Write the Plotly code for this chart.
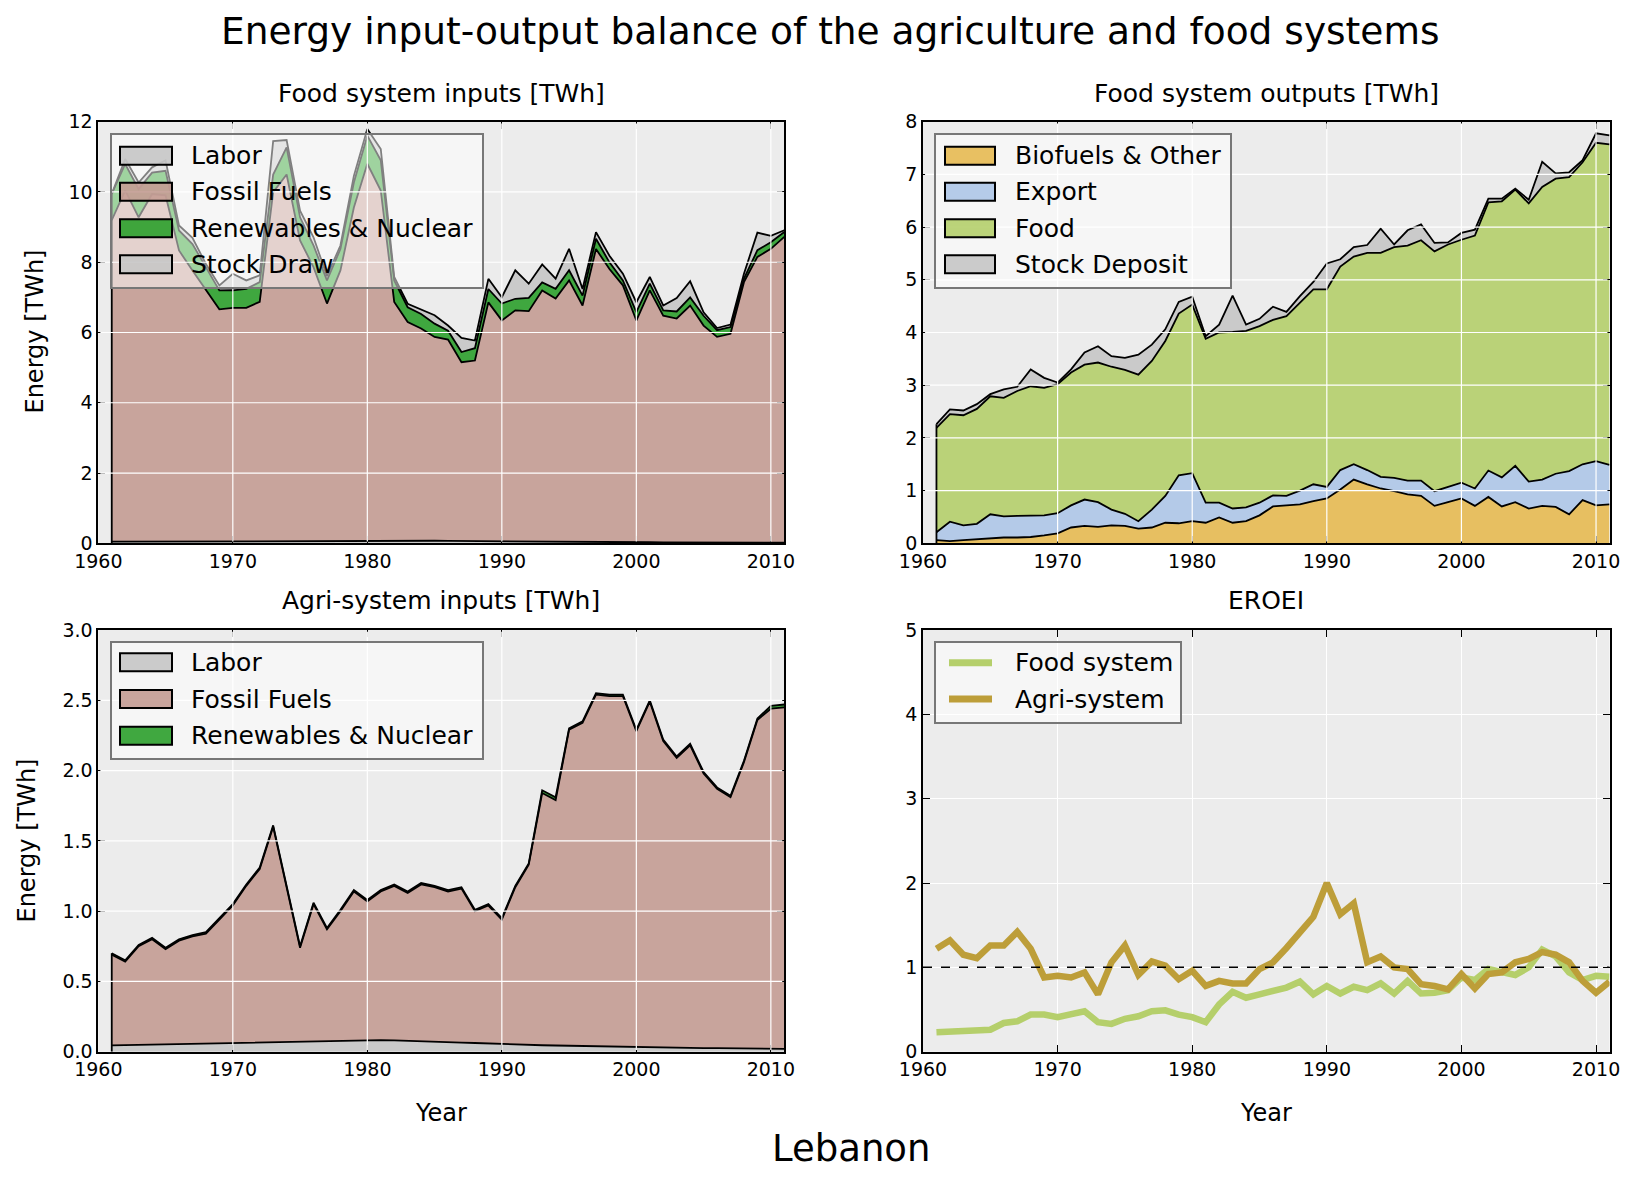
import plotly.graph_objects as go
from plotly.subplots import make_subplots

years = list(range(1961, 2012))

# food system inputs [TWh] (stacked, bottom to top)
labor = [0.045, 0.047, 0.049, 0.051, 0.053, 0.055, 0.057, 0.059, 0.060, 0.062,
         0.063, 0.064, 0.066, 0.068, 0.069, 0.071, 0.074, 0.076, 0.079, 0.083,
         0.082, 0.080, 0.078, 0.075, 0.072, 0.069, 0.065, 0.062, 0.058, 0.054,
         0.050, 0.048, 0.046, 0.044, 0.042, 0.040, 0.038, 0.036, 0.033, 0.031,
         0.030, 0.029, 0.028, 0.027, 0.026, 0.025, 0.024, 0.023, 0.022, 0.021, 0.020]
fossil = [9.15, 10.00, 9.23, 9.89, 9.85, 8.28, 7.71, 7.14, 6.60, 6.64,
          6.64, 6.81, 9.93, 10.43, 8.55, 7.79, 6.75, 7.69, 9.48, 10.72,
          9.96, 6.79, 6.22, 6.04, 5.80, 5.73, 5.09, 5.14, 6.80, 6.29,
          6.58, 6.56, 7.15, 6.92, 7.44, 6.73, 8.34, 7.77, 7.31, 6.31,
          7.17, 6.45, 6.37, 6.74, 6.17, 5.85, 5.94, 7.41, 8.13, 8.36, 8.70]
renewables = [0.75, 0.75, 0.80, 0.61, 0.70, 0.57, 0.75, 0.66, 0.54, 0.50,
              0.54, 0.56, 0.50, 0.77, 0.66, 0.62, 0.66, 0.61, 0.71, 0.80,
              0.86, 0.61, 0.42, 0.41, 0.38, 0.25, 0.29, 0.35, 0.38, 0.48,
              0.33, 0.38, 0.23, 0.28, 0.29, 0.28, 0.29, 0.19, 0.14, 0.24,
              0.19, 0.15, 0.20, 0.23, 0.28, 0.19, 0.19, 0.10, 0.19, 0.19, 0.14]
stock_draw = [0.00, 0.14, 0.19, 0.15, 0.30, 0.14, 0.18, 0.09, 0.14, 0.47,
              0.24, 0.19, 0.95, 0.21, 0.19, 0.23, 0.12, 0.10, 0.19, 0.19,
              0.32, 0.10, 0.10, 0.13, 0.24, 0.15, 0.40, 0.22, 0.29, 0.18,
              0.81, 0.40, 0.51, 0.29, 0.61, 0.19, 0.19, 0.19, 0.19, 0.28,
              0.19, 0.14, 0.38, 0.46, 0.10, 0.06, 0.07, 0.14, 0.50, 0.18, 0.05]

# food system outputs [TWh]
biofuels = [0.06, 0.04, 0.06, 0.08, 0.09, 0.11, 0.11, 0.12, 0.15, 0.19,
            0.30, 0.33, 0.31, 0.34, 0.33, 0.28, 0.30, 0.39, 0.38, 0.42,
            0.39, 0.49, 0.39, 0.42, 0.53, 0.70, 0.72, 0.74, 0.80, 0.85,
            1.02, 1.21, 1.12, 1.04, 0.99, 0.93, 0.90, 0.71, 0.78, 0.85,
            0.71, 0.88, 0.70, 0.78, 0.66, 0.71, 0.69, 0.55, 0.82, 0.72, 0.74]
export = [0.15, 0.37, 0.28, 0.29, 0.46, 0.40, 0.41, 0.40, 0.38, 0.38,
          0.42, 0.50, 0.47, 0.30, 0.23, 0.14, 0.34, 0.51, 0.91, 0.91,
          0.38, 0.28, 0.27, 0.26, 0.24, 0.21, 0.18, 0.26, 0.32, 0.22,
          0.37, 0.29, 0.27, 0.22, 0.25, 0.26, 0.29, 0.28, 0.29, 0.30,
          0.33, 0.50, 0.55, 0.69, 0.51, 0.50, 0.63, 0.82, 0.68, 0.84, 0.75]
food = [1.98, 2.04, 2.09, 2.18, 2.24, 2.25, 2.37, 2.46, 2.42, 2.45,
        2.52, 2.56, 2.65, 2.71, 2.73, 2.78, 2.82, 2.94, 3.07, 3.20,
        3.11, 3.23, 3.35, 3.35, 3.35, 3.33, 3.41, 3.56, 3.70, 3.75,
        3.86, 3.94, 4.12, 4.25, 4.38, 4.46, 4.56, 4.55, 4.60, 4.61,
        4.80, 5.09, 5.24, 5.24, 5.28, 5.55, 5.60, 5.58, 5.73, 6.04, 6.08]
stock_deposit = [0.07, 0.09, 0.09, 0.09, 0.04, 0.16, 0.08, 0.32, 0.19, 0.03,
                 0.06, 0.23, 0.31, 0.20, 0.23, 0.38, 0.31, 0.22, 0.22, 0.15,
                 0.05, 0.15, 0.69, 0.12, 0.14, 0.25, 0.08, 0.13, 0.14, 0.49,
                 0.14, 0.18, 0.15, 0.46, 0.05, 0.29, 0.30, 0.16, 0.04, 0.13,
                 0.11, 0.07, 0.05, 0.02, 0.07, 0.48, 0.10, 0.09, 0.04, 0.18, 0.17]

# agri-system inputs [TWh]
agri_labor = labor
agri_fossil = [0.645, 0.593, 0.701, 0.749, 0.677, 0.735, 0.763, 0.781, 0.880, 0.978,
               1.117, 1.236, 1.534, 1.102, 0.671, 0.979, 0.796, 0.924, 1.061, 0.987,
               1.058, 1.100, 1.052, 1.115, 1.098, 1.071, 1.095, 0.938, 0.982, 0.886,
               1.120, 1.282, 1.794, 1.746, 2.248, 2.300, 2.502, 2.494, 2.497, 2.249,
               2.460, 2.181, 2.062, 2.153, 1.954, 1.845, 1.786, 2.037, 2.338, 2.419, 2.430]
agri_renewables = [0.01, 0.01, 0.01, 0.01, 0.01, 0.01, 0.01, 0.01, 0.01, 0.01,
                   0.01, 0.01, 0.01, 0.01, 0.01, 0.01, 0.01, 0.01, 0.01, 0.01,
                   0.01, 0.01, 0.01, 0.01, 0.01, 0.01, 0.01, 0.01, 0.01, 0.01,
                   0.01, 0.01, 0.02, 0.02, 0.01, 0.01, 0.01, 0.01, 0.01, 0.01,
                   0.01, 0.01, 0.01, 0.01, 0.01, 0.01, 0.01, 0.01, 0.01, 0.02, 0.02]

# EROEI
eroei_food = [0.23, 0.24, 0.25, 0.25, 0.26, 0.34, 0.36, 0.44, 0.44, 0.41,
              0.45, 0.48, 0.35, 0.33, 0.39, 0.42, 0.48, 0.49, 0.44, 0.41,
              0.35, 0.56, 0.71, 0.64, 0.68, 0.72, 0.76, 0.83, 0.68, 0.78,
              0.69, 0.77, 0.73, 0.81, 0.69, 0.84, 0.69, 0.70, 0.73, 0.88,
              0.85, 0.98, 0.94, 0.91, 1.00, 1.21, 1.13, 0.94, 0.85, 0.90, 0.89]
eroei_agri = [1.22, 1.32, 1.15, 1.11, 1.26, 1.26, 1.42, 1.22, 0.88, 0.90,
              0.88, 0.94, 0.68, 1.06, 1.26, 0.91, 1.07, 1.02, 0.86, 0.96,
              0.78, 0.84, 0.81, 0.81, 0.98, 1.06, 1.23, 1.43, 1.60, 2.00,
              1.63, 1.76, 1.06, 1.13, 1.00, 0.98, 0.80, 0.78, 0.74, 0.92,
              0.75, 0.92, 0.94, 1.06, 1.10, 1.18, 1.15, 1.06, 0.84, 0.70, 0.83]

x_ticks = [1960, 1970, 1980, 1990, 2000, 2010]
tl_ticks = [0, 2, 4, 6, 8, 10, 12]
tr_ticks = [0, 1, 2, 3, 4, 5, 6, 7, 8]
bl_ticks = [0.0, 0.5, 1.0, 1.5, 2.0, 2.5, 3.0]
br_ticks = [0, 1, 2, 3, 4, 5]

W, H = 1636, 1181
OFF = 8  # the page body has an 8px margin; place things in screen pixels
FONT = "DejaVu Sans"
GRAY = "rgba(199,199,199,0.9)"
BROWN = "rgba(196,156,148,0.9)"
GREEN = "rgba(44,160,44,0.9)"
ORANGE = "rgba(231,186,82,0.9)"
BLUE = "rgba(174,199,232,0.9)"
LGREEN = "rgba(181,207,107,0.9)"


def px(x):
    return (x - OFF) / W


def py(y):
    return 1 - (y - OFF) / H


fig = make_subplots(rows=2, cols=2)


def add_stack(ys, colors, row, col, group):
    for y, c in zip(ys, colors):
        fig.add_trace(go.Scatter(x=years, y=y, stackgroup=group, mode="lines",
                                 fillcolor=c, line=dict(color="black", width=1.8),
                                 showlegend=False, hoverinfo="skip"),
                      row=row, col=col)
    # left edge of the filled polygon
    first = sum(y[0] for y in ys)
    fig.add_trace(go.Scatter(x=[years[0], years[0]], y=[0, first], mode="lines",
                             line=dict(color="black", width=1.8),
                             showlegend=False, hoverinfo="skip"),
                  row=row, col=col)


add_stack([labor, fossil, renewables, stock_draw], [GRAY, BROWN, GREEN, GRAY], 1, 1, "tl")
add_stack([biofuels, export, food, stock_deposit], [ORANGE, BLUE, LGREEN, GRAY], 1, 2, "tr")
add_stack([agri_labor, agri_fossil, agri_renewables], [GRAY, BROWN, GREEN], 2, 1, "bl")

fig.add_trace(go.Scatter(x=years, y=eroei_food, name="Food system", mode="lines",
                         line=dict(color="#b5cf6b", width=6.5), showlegend=False),
              row=2, col=2)
fig.add_trace(go.Scatter(x=years, y=eroei_agri, name="Agri-system", mode="lines",
                         line=dict(color="#bd9e39", width=6.5), showlegend=False),
              row=2, col=2)

# panel frames in screen pixels
left_px, right_px = (98.3, 784.3), (923.0, 1609.5)
top_px, bot_px = (121.7, 543.3), (630.0, 1051.7)
doms_x = {1: left_px, 2: right_px, 3: left_px, 4: right_px}
doms_y = {1: top_px, 2: top_px, 3: bot_px, 4: bot_px}
yticks = {1: tl_ticks, 2: tr_ticks, 3: bl_ticks, 4: br_ticks}

axis_common = dict(showline=True, linecolor="black", linewidth=1.8, mirror="ticks",
                   ticks="inside", ticklen=7, tickcolor="black", tickwidth=1.2,
                   zeroline=False, automargin=False,
                   tickfont=dict(family=FONT, size=19, color="black"))

shapes = []
for i in range(1, 5):
    sfx = "" if i == 1 else str(i)
    xd, yd = doms_x[i], doms_y[i]
    fig.layout["xaxis" + sfx].update(domain=[px(xd[0]), px(xd[1])], range=[1960, 2011],
                                     tickvals=x_ticks, showgrid=(i == 4),
                                     gridcolor="white", gridwidth=1, **axis_common)
    yt = yticks[i]
    fig.layout["yaxis" + sfx].update(domain=[py(yd[1]), py(yd[0])], range=[yt[0], yt[-1]],
                                     tickvals=yt, tickformat=".1f" if i == 3 else "d",
                                     showgrid=(i == 4), gridcolor="white", gridwidth=1,
                                     **axis_common)
    if i < 4:
        # grid drawn over the filled areas, as in the source
        for xv in x_ticks[1:]:
            shapes.append(dict(type="line", xref="x" + sfx, yref="y" + sfx + " domain",
                               x0=xv, x1=xv, y0=0.004, y1=0.996, layer="above",
                               line=dict(color="white", width=1.2)))
        for yv in yt[1:-1]:
            shapes.append(dict(type="line", xref="x" + sfx + " domain", yref="y" + sfx,
                               x0=0.003, x1=0.997, y0=yv, y1=yv, layer="above",
                               line=dict(color="white", width=1.2)))

# EROEI = 1 reference
shapes.append(dict(type="line", xref="x4 domain", yref="y4", x0=0, x1=1, y0=1, y1=1,
                   layer="above", line=dict(color="black", width=1.5, dash="dash")))

ann = []


def text(s, x, y, size, angle=0, anchor="center"):
    ann.append(dict(text=s, x=px(x), y=py(y), xref="paper", yref="paper", showarrow=False,
                    xanchor=anchor, yanchor="middle", textangle=angle,
                    font=dict(family=FONT, size=size, color="black")))


# legends drawn as matplotlib-style boxes (pixel positions)
def legend_box(x0, x1, y0, y1, items, sw_x0, sw_x1, text_x, rows, kind="patch"):
    shapes.append(dict(type="rect", xref="paper", yref="paper",
                       x0=px(x0), x1=px(x1), y0=py(y1), y1=py(y0), layer="above",
                       fillcolor="rgba(255,255,255,0.5)",
                       line=dict(color="#777777", width=2)))
    for (name, c), yc in zip(items, rows):
        if kind == "patch":
            shapes.append(dict(type="rect", xref="paper", yref="paper",
                               x0=px(sw_x0), x1=px(sw_x1), y0=py(yc + 9), y1=py(yc - 9),
                               layer="above", fillcolor=c,
                               line=dict(color="black", width=2)))
        else:
            shapes.append(dict(type="line", xref="paper", yref="paper",
                               x0=px(sw_x0), x1=px(sw_x1), y0=py(yc), y1=py(yc),
                               layer="above", line=dict(color=c, width=7)))
        text(name, text_x, yc, 25, anchor="left")


legend_box(111, 483, 134, 288,
           [("Labor", GRAY), ("Fossil Fuels", BROWN), ("Renewables & Nuclear", GREEN),
            ("Stock Draw", GRAY)],
           120, 172, 189, [155.7, 191.7, 228.3, 264.3])
legend_box(935, 1231, 134, 288,
           [("Biofuels & Other", ORANGE), ("Export", BLUE), ("Food", LGREEN),
            ("Stock Deposit", GRAY)],
           945, 995, 1013, [155.7, 191.7, 228.3, 264.3])
legend_box(111, 483, 642, 759,
           [("Labor", GRAY), ("Fossil Fuels", BROWN), ("Renewables & Nuclear", GREEN)],
           120, 172, 189, [662.3, 699.0, 735.7])
legend_box(935, 1181, 642, 723,
           [("Food system", "#b5cf6b"), ("Agri-system", "#bd9e39")],
           949, 992, 1013, [662.7, 699.0], kind="line")

text("Energy input-output balance of the agriculture and food systems", 829.5, 31, 37.5)
text("Food system inputs [TWh]", 441.2, 94, 25)
text("Food system outputs [TWh]", 1266.3, 94, 25)
text("Agri-system inputs [TWh]", 441.2, 600, 25)
text("EROEI", 1266.3, 600, 25)
text("Energy [TWh]", 34.5, 332, 24, -90)
text("Energy [TWh]", 26.5, 841, 24, -90)
text("Year", 441.2, 1113, 24)
text("Year", 1266.3, 1113, 24)
text("Lebanon", 850.7, 1148, 37)

fig.update_layout(width=W, height=H, margin=dict(l=0, r=0, t=0, b=0, autoexpand=False),
                  paper_bgcolor="white", plot_bgcolor="#ececec",
                  font=dict(family=FONT, color="black"),
                  shapes=shapes, annotations=ann, showlegend=False)

fig.write_html("out.html")
